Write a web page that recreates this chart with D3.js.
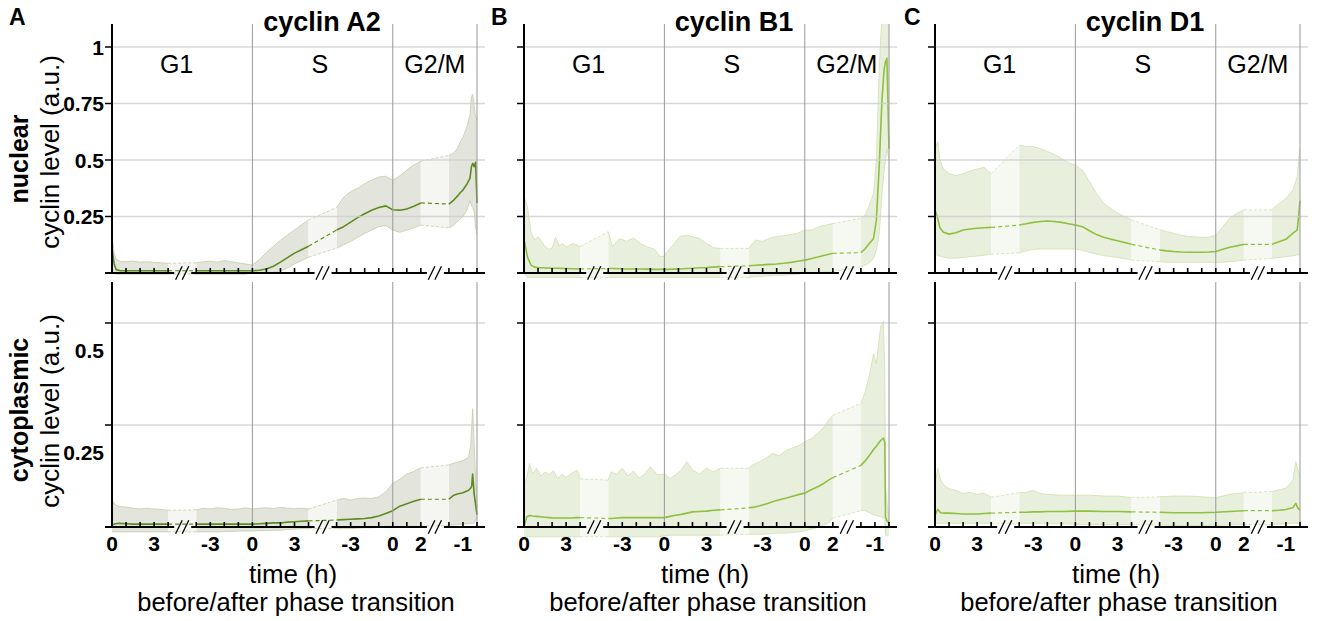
<!DOCTYPE html>
<html>
<head>
<meta charset="utf-8">
<script src="https://cdn.jsdelivr.net/npm/d3@7"></script>
<style>
body{margin:0;background:#fff;}
svg{font-family:"Liberation Sans",Arial,Helvetica,sans-serif;}
</style>
</head>
<body>
<svg id="chart" width="1325" height="621"></svg>
<script>
// ---- chart values ----
const titles=["cyclin A2","cyclin B1","cyclin D1"];
const letters=["A","B","C"];
const phaseNames=["G1","S","G2/M"];
const phaseLabelU=[4.6,14.8,23];
const phaseEdgesU=[10,20,26];
// axis units: G1 0..4 | gap | -4..0, S 0..4 | gap | -4..0, G2/M 0..2 | gap | -2..0
const pieces=[[0,4],[6,14],[16,22],[24,26]];
const gapCenters=[5,15,23];
const xTickU=[0,3,7,10,13,17,20,22,25];
const xTickText=["0","3","-3","0","3","-3","0","2","-1"];
const nucTicks=[0.25,0.5,0.75,1];
const nucTickText=["0.25","0.5","0.75","1"];
const cytTicks=[0.25,0.5];
const cytTickText=["0.25","0.5"];

// rows: [u, mean, lower, upper]
const a2Nuc=[
 [0,0.11,0,0.16],[0.15,0.04,0,0.09],[0.3,0.015,-0.005,0.06],[0.6,0.01,-0.005,0.052],[1,0.01,-0.005,0.05],
 [1.5,0.01,-0.005,0.053],[2,0.01,-0.005,0.048],[2.5,0.01,-0.005,0.05],[3,0.01,-0.005,0.047],[3.5,0.01,-0.005,0.045],[4,0.01,-0.005,0.043],
 [6,0.01,-0.005,0.045],[6.5,0.01,-0.005,0.05],[7,0.01,-0.005,0.052],[7.5,0.01,-0.005,0.048],[8,0.01,-0.005,0.055],
 [8.5,0.01,-0.005,0.05],[9,0.01,-0.005,0.045],[9.5,0.01,-0.005,0.04],[10,0.01,0,0.035],
 [10.5,0.012,0,0.06],[11,0.018,0,0.09],[11.5,0.03,0.003,0.118],[12,0.048,0.01,0.145],[12.5,0.068,0.022,0.168],
 [13,0.088,0.04,0.19],[13.5,0.103,0.055,0.213],[14,0.118,0.07,0.235],
 [16,0.19,0.11,0.29],[16.5,0.205,0.125,0.335],[17,0.225,0.14,0.36],[17.5,0.245,0.158,0.375],[18,0.262,0.175,0.395],
 [18.5,0.278,0.19,0.41],[19,0.29,0.205,0.425],[19.5,0.297,0.21,0.428],[20,0.28,0.19,0.41],
 [20.5,0.278,0.18,0.43],[21,0.283,0.19,0.455],[21.5,0.295,0.2,0.478],[22,0.31,0.212,0.495],
 [24,0.305,0.2,0.52],[24.3,0.32,0.21,0.53],[24.6,0.34,0.227,0.55],[24.8,0.355,0.24,0.58],[25,0.367,0.25,0.6],
 [25.3,0.395,0.28,0.65],[25.5,0.42,0.32,0.7],[25.6,0.47,0.3,0.78],[25.7,0.485,0.29,0.79],[25.8,0.47,0.27,0.74],
 [25.9,0.49,0.2,0.69],[26,0.31,0.17,0.68]
];
const a2Cyt=[
 [0,0.005,-0.012,0.066],[0.25,0.008,-0.012,0.054],[0.5,0.009,-0.012,0.05],[1,0.008,-0.012,0.049],[1.5,0.007,-0.012,0.046],
 [2,0.007,-0.012,0.044],[2.5,0.007,-0.012,0.046],[3,0.007,-0.012,0.044],[3.5,0.007,-0.012,0.043],[4,0.007,-0.012,0.041],
 [6,0.007,-0.012,0.042],[6.5,0.007,-0.012,0.046],[7,0.007,-0.012,0.044],[7.5,0.007,-0.012,0.047],[8,0.007,-0.011,0.046],
 [8.5,0.007,-0.011,0.043],[9,0.007,-0.01,0.044],[9.5,0.007,-0.01,0.047],[10,0.007,-0.01,0.044],
 [10.5,0.008,-0.009,0.046],[11,0.009,-0.009,0.047],[11.5,0.01,-0.008,0.045],[12,0.01,-0.008,0.048],[12.5,0.012,-0.006,0.046],
 [13,0.013,-0.005,0.045],[13.5,0.014,-0.004,0.046],[14,0.015,-0.004,0.044],
 [16,0.017,-0.004,0.066],[16.5,0.018,-0.004,0.07],[17,0.019,-0.004,0.066],[17.5,0.02,-0.003,0.07],[18,0.021,-0.002,0.071],
 [18.5,0.023,-0.002,0.07],[19,0.027,-0.001,0.074],[19.5,0.033,0,0.086],[20,0.04,0,0.107],
 [20.5,0.051,0,0.117],[21,0.057,0.001,0.13],[21.5,0.063,0.001,0.136],[22,0.068,0.002,0.145],
 [24,0.068,0.004,0.152],[24.3,0.077,0.005,0.156],[24.6,0.081,0.006,0.159],[25,0.084,0.007,0.163],[25.4,0.09,0.008,0.171],
 [25.55,0.095,0.008,0.2],[25.62,0.1,0.008,0.24],[25.69,0.13,0.008,0.29],[25.8,0.08,0.01,0.2],[26,0.03,0.025,0.04]
];
const b1Nuc=[
 [0,0.15,0,0.34],[0.25,0.07,-0.02,0.29],[0.5,0.035,-0.02,0.18],[0.75,0.026,-0.02,0.146],[1,0.024,-0.02,0.16],
 [1.25,0.023,-0.02,0.14],[1.5,0.022,-0.02,0.117],[1.75,0.022,-0.02,0.105],[2,0.021,-0.02,0.11],[2.25,0.021,-0.02,0.158],
 [2.5,0.021,-0.02,0.12],[2.75,0.02,-0.02,0.131],[3,0.02,-0.02,0.115],[3.5,0.019,-0.02,0.13],[4,0.018,-0.02,0.117],
 [6,0.02,-0.02,0.183],[6.3,0.02,-0.02,0.117],[6.8,0.019,-0.02,0.153],[7.3,0.018,-0.02,0.14],[7.8,0.018,-0.02,0.155],
 [8.3,0.018,-0.02,0.13],[8.8,0.017,-0.02,0.115],[9.3,0.016,-0.02,0.105],[9.7,0.016,-0.02,0.072],[10,0.016,-0.02,0.075],
 [10.2,0.016,-0.02,0.094],[10.7,0.017,-0.02,0.13],[11.1,0.018,-0.02,0.161],[11.6,0.02,-0.02,0.168],[12,0.021,-0.02,0.16],
 [12.5,0.023,-0.02,0.153],[13,0.024,-0.02,0.131],[13.5,0.026,-0.02,0.112],[14,0.028,-0.02,0.109],
 [16,0.032,-0.02,0.109],[16.5,0.034,-0.015,0.146],[17,0.036,-0.015,0.14],[17.5,0.038,-0.012,0.155],[18,0.04,-0.01,0.161],
 [18.5,0.043,-0.01,0.165],[19,0.047,-0.008,0.17],[19.5,0.052,-0.005,0.176],[20,0.057,0,0.19],
 [20.5,0.064,0,0.19],[21,0.072,0.003,0.205],[21.5,0.08,0.005,0.212],[22,0.087,0.006,0.219],
 [24,0.09,0.028,0.242],[24.3,0.107,0.035,0.257],[24.6,0.131,0.045,0.3],[24.9,0.153,0.065,0.352],[25.1,0.234,0.1,0.5],
 [25.3,0.47,0.176,0.9],[25.5,0.765,0.35,1.15],[25.65,0.9,0.45,1.2],[25.75,0.935,0.5,1.2],[25.85,0.95,0.55,1.2],[26,0.55,0.5,1.2]
];
const b1Cyt=[
 [0,0,-0.024,0.108],[0.2,0.025,-0.024,0.12],[0.4,0.028,-0.024,0.156],[0.6,0.027,-0.024,0.13],[0.9,0.026,-0.024,0.144],
 [1.2,0.025,-0.024,0.125],[1.5,0.024,-0.024,0.135],[1.8,0.023,-0.024,0.128],[2.1,0.022,-0.024,0.138],[2.4,0.022,-0.024,0.119],
 [2.7,0.022,-0.024,0.13],[3,0.022,-0.024,0.122],[3.4,0.022,-0.024,0.132],[3.8,0.023,-0.024,0.139],[4,0.023,-0.024,0.118],
 [6,0.021,-0.024,0.115],[6.2,0.021,-0.024,0.135],[6.6,0.022,-0.024,0.13],[7,0.023,-0.024,0.144],[7.4,0.023,-0.024,0.125],
 [7.8,0.023,-0.024,0.137],[8.2,0.023,-0.024,0.12],[8.6,0.023,-0.024,0.13],[9,0.023,-0.024,0.148],[9.5,0.023,-0.024,0.128],[10,0.023,-0.022,0.13],
 [10.4,0.026,-0.02,0.119],[10.8,0.029,-0.02,0.128],[11.2,0.031,-0.02,0.14],[11.6,0.034,-0.02,0.16],[12,0.037,-0.02,0.14],
 [12.5,0.038,-0.02,0.13],[13,0.039,-0.02,0.144],[13.5,0.041,-0.02,0.135],[14,0.042,-0.02,0.144],
 [16,0.047,-0.018,0.144],[16.3,0.048,-0.018,0.152],[16.8,0.052,-0.018,0.16],[17.3,0.057,-0.017,0.17],[17.7,0.062,-0.016,0.18],
 [18.2,0.067,-0.015,0.175],[18.7,0.071,-0.015,0.188],[19.2,0.076,-0.013,0.195],[19.6,0.08,-0.012,0.2],[20,0.083,-0.01,0.209],
 [20.5,0.092,-0.005,0.217],[21,0.1,0,0.233],[21.4,0.108,0.005,0.245],[21.7,0.115,0.01,0.262],[22,0.121,0.022,0.274],
 [24,0.151,0.04,0.303],[24.3,0.162,0.04,0.33],[24.6,0.175,0.035,0.372],[24.9,0.19,0.03,0.425],[25.1,0.198,0.028,0.4],
 [25.4,0.212,0.025,0.49],[25.6,0.218,0.022,0.505],[25.7,0.208,0.02,0.38],[25.75,0.025,-0.02,0.1],[25.85,0.015,-0.02,0.06],[26,0.01,-0.02,0.02]
];
const d1Nuc=[
 [0,0.28,0.08,0.6],[0.1,0.26,0.08,0.56],[0.2,0.24,0.078,0.58],[0.35,0.2,0.075,0.5],[0.6,0.18,0.07,0.46],[1,0.172,0.065,0.44],
 [1.5,0.178,0.066,0.43],[2,0.19,0.069,0.44],[2.5,0.195,0.072,0.452],[3,0.198,0.075,0.46],[3.5,0.2,0.079,0.468],[4,0.202,0.083,0.44],
 [6,0.212,0.089,0.565],[6.5,0.218,0.098,0.56],[7,0.224,0.105,0.56],[7.5,0.228,0.106,0.55],[8,0.23,0.106,0.538],
 [8.5,0.228,0.106,0.525],[9,0.224,0.106,0.508],[9.5,0.218,0.106,0.488],[10,0.212,0.106,0.477],
 [10.5,0.205,0.1,0.455],[11,0.187,0.091,0.405],[11.5,0.17,0.084,0.352],[12,0.158,0.077,0.31],[12.5,0.15,0.073,0.286],
 [13,0.143,0.069,0.265],[13.5,0.135,0.063,0.25],[14,0.127,0.057,0.235],
 [16,0.102,0.05,0.192],[16.5,0.098,0.048,0.183],[17,0.095,0.047,0.176],[17.5,0.093,0.047,0.168],[18,0.092,0.047,0.162],
 [18.5,0.092,0.047,0.16],[19,0.092,0.047,0.158],[19.5,0.093,0.047,0.158],[20,0.095,0.047,0.168],
 [20.5,0.105,0.048,0.205],[21,0.114,0.05,0.242],[21.5,0.12,0.053,0.264],[22,0.127,0.057,0.279],
 [24,0.127,0.065,0.279],[24.5,0.138,0.068,0.308],[25,0.149,0.072,0.33],[25.5,0.176,0.076,0.367],[25.8,0.19,0.08,0.426],
 [25.9,0.25,0.08,0.5],[26,0.32,0.08,0.552]
];
const d1Cyt=[
 [0,0.029,0.009,0.107],[0.2,0.043,0.009,0.144],[0.4,0.035,0.009,0.115],[0.7,0.034,0.009,0.1],[1,0.034,0.009,0.094],
 [1.5,0.033,0.009,0.09],[2,0.032,0.009,0.082],[2.5,0.032,0.009,0.085],[3,0.032,0.009,0.08],[3.5,0.033,0.009,0.083],[4,0.034,0.009,0.073],
 [6,0.036,0.009,0.084],[6.5,0.036,0.009,0.085],[7,0.037,0.009,0.09],[7.5,0.037,0.009,0.082],[8,0.038,0.008,0.08],
 [9,0.038,0.008,0.078],[10,0.039,0.007,0.078],
 [11,0.039,0.006,0.078],[12,0.038,0.006,0.076],[13,0.038,0.006,0.076],[14,0.037,0.006,0.072],
 [16,0.036,0.005,0.074],[17,0.035,0.004,0.076],[18,0.035,0.004,0.076],[19,0.035,0.004,0.074],[20,0.036,0.004,0.072],
 [21,0.038,0.005,0.08],[22,0.04,0.006,0.084],
 [24,0.04,0.006,0.087],[24.5,0.041,0.007,0.091],[25,0.043,0.008,0.095],[25.5,0.048,0.009,0.115],[25.7,0.058,0.009,0.16],
 [25.85,0.046,0.009,0.14],[26,0.042,0.009,0.124]
];

// ---- layout ----
const panelX=[112,524,935];
const letterX=[9,491,904];
const plotW=365;
const olive={fill:"#e3e5dd",gap:"#f5f6f1",edge:"#c4cdaa",line:"#5e8a1f"};
const lime={fill:"#e8efdc",gap:"#f6f9f1",edge:"#cfe1b0",line:"#8fc040"};
const looks=[olive,lime,lime];
const series=[[a2Nuc,a2Cyt],[b1Nuc,b1Cyt],[d1Nuc,d1Cyt]];

const rowsCfg=[
  {top:24,bottom:273,y:d3.scaleLinear().domain([0,1]).range([273,47]),ticks:nucTicks,tickText:nucTickText,shift:0,name:"nuclear",mid:159,mid2:152},
  {top:282,bottom:527,y:d3.scaleLinear().domain([0,0.5]).range([527,323]),ticks:cytTicks,tickText:cytTickText,shift:27,name:"cytoplasmic",mid:410,mid2:411}
];

const x=d3.scaleLinear().domain([0,26]).range([0,plotW]);
const svg=d3.select("#chart");
const defs=svg.append("defs");

const inPiece=(data,p)=>data.filter((d)=>d[0]>=p[0]&&d[0]<=p[1]);

panelX.forEach((px,col)=>{
  rowsCfg.forEach((r,ri)=>{
    const data=series[col][ri];
    const look=looks[col];
    const y=r.y;
    const g=svg.append("g").attr("transform",`translate(${px},0)`);
    const clipId=`clip${col}${ri}`;
    defs.append("clipPath").attr("id",clipId)
      .append("rect").attr("x",-2).attr("y",r.top).attr("width",plotW+6).attr("height",r.bottom-r.top+20);
    const plot=g.append("g").attr("clip-path",`url(#${clipId})`);

    const pieceData=pieces.map((p)=>inPiece(data,p));
    const gapData=pieceData.slice(0,-1).map((pd,i)=>[pd[pd.length-1],pieceData[i+1][0]]);

    const area=d3.area().x((d)=>x(d[0])).y0((d)=>y(d[2])).y1((d)=>y(d[3]));
    const hi=d3.line().x((d)=>x(d[0])).y((d)=>y(d[3]));
    const lo=d3.line().x((d)=>x(d[0])).y((d)=>y(d[2]));
    const mean=d3.line().x((d)=>x(d[0])).y((d)=>y(d[1]));

    plot.selectAll(".band").data(pieceData).join("path")
      .attr("class","band").attr("d",area).attr("fill",look.fill);
    plot.selectAll(".gapband").data(gapData).join("path")
      .attr("class","gapband").attr("d",area).attr("fill",look.gap);
    [hi,lo].forEach((fn,k)=>{
      plot.selectAll(`.edge${k}`).data(pieceData).join("path")
        .attr("class",`edge${k}`).attr("d",fn).attr("fill","none")
        .attr("stroke",look.edge).attr("stroke-width",0.8);
      plot.selectAll(`.gedge${k}`).data(gapData).join("path")
        .attr("class",`gedge${k}`).attr("d",fn).attr("fill","none")
        .attr("stroke",look.edge).attr("stroke-width",0.8).attr("stroke-dasharray","3,2");
    });

    // horizontal grid
    g.selectAll(".grid").data(r.ticks).join("line")
      .attr("class","grid")
      .attr("x1",0).attr("x2",plotW+8)
      .attr("y1",(d)=>y(d)).attr("y2",(d)=>y(d))
      .attr("stroke","#cfcfcf").attr("stroke-width",1.5).attr("opacity",0.8);
    // phase boundaries
    g.selectAll(".phase").data(phaseEdgesU).join("line")
      .attr("class","phase")
      .attr("x1",(d)=>x(d)).attr("x2",(d)=>x(d))
      .attr("y1",r.top).attr("y2",r.bottom)
      .attr("stroke","#999").attr("stroke-width",1);

    plot.selectAll(".mean").data(pieceData).join("path")
      .attr("class","mean").attr("d",mean).attr("fill","none")
      .attr("stroke",look.line).attr("stroke-width",1.6).attr("stroke-linejoin","round");
    plot.selectAll(".gmean").data(gapData).join("path")
      .attr("class","gmean").attr("d",mean).attr("fill","none")
      .attr("stroke",look.line).attr("stroke-width",1.2).attr("stroke-dasharray","4,3");

    // y axis
    g.append("line").attr("x1",0).attr("x2",0).attr("y1",r.top).attr("y2",r.bottom+1)
      .attr("stroke","#000").attr("stroke-width",2);
    g.selectAll(".ytick").data(r.ticks).join("line")
      .attr("class","ytick")
      .attr("x1",-7).attr("x2",0)
      .attr("y1",(d)=>y(d)).attr("y2",(d)=>y(d))
      .attr("stroke","#000").attr("stroke-width",1.5);

    // x axis with breaks
    const cuts=[-7].concat(gapCenters.flatMap((c)=>[x(c)-8,x(c)+9]),[plotW+8]);
    const segs=d3.range(0,cuts.length,2).map((i)=>[cuts[i],cuts[i+1]]);
    g.selectAll(".xaxis").data(segs).join("line")
      .attr("class","xaxis")
      .attr("x1",(d)=>d[0]).attr("x2",(d)=>d[1])
      .attr("y1",r.bottom).attr("y2",r.bottom)
      .attr("stroke","#000").attr("stroke-width",2.2);
    const tickUnits=pieces.flatMap((p)=>d3.range(p[0],p[1]+1));
    g.selectAll(".xtick").data(tickUnits).join("line")
      .attr("class","xtick")
      .attr("x1",(d)=>x(d)).attr("x2",(d)=>x(d))
      .attr("y1",r.bottom-5).attr("y2",r.bottom)
      .attr("stroke","#000").attr("stroke-width",1.6);
    const slashes=gapCenters.flatMap((c)=>[x(c)-3.3,x(c)+3.3]);
    g.selectAll(".slash").data(slashes).join("line")
      .attr("class","slash")
      .attr("x1",(d)=>d-3.3).attr("x2",(d)=>d+3.3)
      .attr("y1",r.bottom+6.7).attr("y2",r.bottom-6.7)
      .attr("stroke","#000").attr("stroke-width",1.3);

    if(ri===0){
      g.append("text").attr("x",210).attr("y",31)
        .attr("text-anchor","middle").attr("font-size",27).attr("font-weight","bold")
        .text(titles[col]);
      g.selectAll(".phaselabel").data(phaseNames).join("text")
        .attr("class","phaselabel")
        .attr("x",(d,i)=>x(phaseLabelU[i])).attr("y",73)
        .attr("text-anchor","middle").attr("font-size",25)
        .text((d)=>d);
    } else {
      g.selectAll(".xlabel").data(xTickText).join("text")
        .attr("class","xlabel")
        .attr("x",(d,i)=>x(xTickU[i])).attr("y",551)
        .attr("text-anchor","middle").attr("font-size",21).attr("font-weight","bold")
        .text((d)=>d);
      g.append("text").attr("x",181).attr("y",583)
        .attr("text-anchor","middle").attr("font-size",26).text("time (h)");
      g.append("text").attr("x",184).attr("y",611)
        .attr("text-anchor","middle").attr("font-size",25.5).text("before/after phase transition");
    }

    if(col===0){
      g.selectAll(".ylabel").data(r.tickText).join("text")
        .attr("class","ylabel")
        .attr("x",-8).attr("y",(d,i)=>y(r.ticks[i])+r.shift)
        .attr("dy","0.36em")
        .attr("text-anchor","end").attr("font-size",21).attr("font-weight","bold")
        .text((d)=>d);
      svg.append("text").attr("transform",`translate(28,${r.mid}) rotate(-90)`)
        .attr("text-anchor","middle").attr("font-size",25).attr("font-weight","bold").text(r.name);
      svg.append("text").attr("transform",`translate(59,${r.mid2}) rotate(-90)`)
        .attr("text-anchor","middle").attr("font-size",26).text("cyclin level (a.u.)");
    }
  });
});

svg.selectAll(".letter").data(letters).join("text")
  .attr("class","letter")
  .attr("x",(d,i)=>letterX[i]).attr("y",25)
  .attr("font-size",23).attr("font-weight","bold")
  .text((d)=>d);
</script>
</body>
</html>
